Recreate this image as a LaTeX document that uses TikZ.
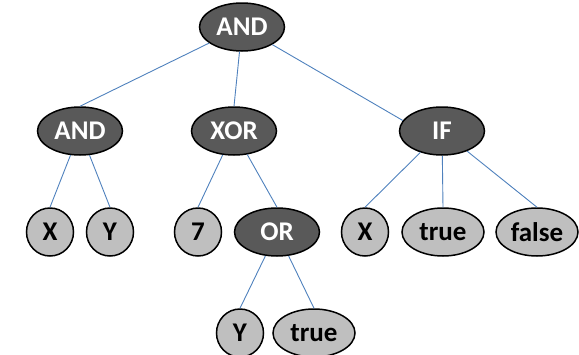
\documentclass[tikz,border=0pt]{standalone}
\usepackage{fontspec}
\setmainfont{Carlito}
\usetikzlibrary{shapes.geometric}
\definecolor{opgray}{HTML}{595959}
\definecolor{leafgray}{HTML}{BFBFBF}
\definecolor{linkblue}{HTML}{4F81BD}

\begin{document}
\begin{tikzpicture}[x=1pt,y=-1pt,
  base/.style={ellipse,draw=black,line width=1.5pt,inner sep=0pt,minimum height=48,font=\fontsize{27}{30}\selectfont\bfseries},
  op/.style={base,fill=opgray,text=white,minimum width=85},
  leaf/.style={base,fill=leafgray,text=black,minimum width=47},
  wide/.style={leaf,minimum width=82},
  link/.style={draw=linkblue,line width=0.9pt}]

\useasboundingbox (0,0) rectangle (579,354);

\node[op] (r) at (242,27) {AND};
\node[op] (a1) at (80,131) {AND};
\node[op] (a2) at (234,131) {XOR};
\node[op] (a3) at (442,131) {IF};
\node[leaf] (b1) at (50,232) {X};
\node[leaf] (b2) at (110,232) {Y};
\node[leaf] (b3) at (198,232) {7};
\node[op] (b4) at (277,232) {OR};
\node[leaf] (b5) at (365,232) {X};
\node[wide] (b6) at (443,232) {true};
\node[wide] (b7) at (537,232) {false};
\node[leaf] (c1) at (240,333) {Y};
\node[wide] (c2) at (314,333) {true};

\path[link] (r) edge (a1.north) (r) edge (a2.north) (r) edge (a3.165) (a1) edge (b1.north) (a1) edge (b2.north) (a2) edge (b3.north) (a2) edge (b4.north) (a3) edge (b5.north) (a3) edge (b6.north) (a3) edge (b7.north) (b4) edge (c1.north) (b4) edge (c2.north);

\end{tikzpicture}
\end{document}
